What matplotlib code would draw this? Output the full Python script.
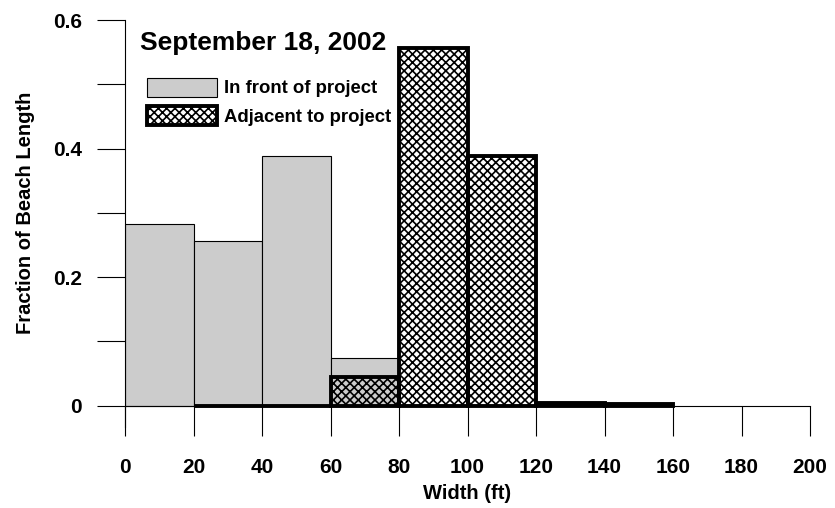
import numpy as np
import matplotlib.pyplot as plt
from matplotlib.patches import Patch

plt.rcParams['font.family'] = ['Liberation Sans', 'DejaVu Sans']
plt.rcParams['font.weight'] = 'bold'
plt.rcParams['hatch.linewidth'] = 1.2

# Données (classes de largeur de 20 ft)
front_left = [0, 20, 40, 60]
front_frac = [0.283, 0.256, 0.388, 0.075]
adj_left = [20, 40, 60, 80, 100, 120, 140]
adj_frac = [0.0, 0.0, 0.044, 0.556, 0.389, 0.005, 0.002]
xticks = [0, 20, 40, 60, 80, 100, 120, 140, 160, 180, 200]
yticks = [0, 0.2, 0.4, 0.6]
ytick_labels = ['0', '0.2', '0.4', '0.6']

fig = plt.figure(figsize=(8.35, 5.08), dpi=100)
ax = fig.add_axes([125/835, 1 - 427/508, 685/835, (427 - 20)/508])

ax.bar(front_left, front_frac, width=20, align='edge', color='#cccccc',
       edgecolor='black', linewidth=0.8, zorder=2)
ax.bar(adj_left, adj_frac, width=20, align='edge', facecolor='none',
       edgecolor='black', hatch='xxxx', linewidth=2.8, zorder=3)

ax.set_xlim(0, 200)
ax.set_ylim(-0.033, 0.6)
ax.spines['top'].set_visible(False)
ax.spines['right'].set_visible(False)
ax.spines['bottom'].set_position(('data', 0))
ax.spines['bottom'].set_linewidth(0.8)
ax.spines['left'].set_linewidth(0.8)

ax.set_xticks(xticks)
ax.set_xticklabels([str(v) for v in xticks])
ax.set_yticks(yticks)
ax.set_yticklabels(ytick_labels)
ax.set_yticks([0.1, 0.3, 0.5], minor=True)
ax.tick_params(axis='x', direction='out', length=21.5, width=0.8, pad=16, labelsize=15)
ax.tick_params(axis='y', which='both', direction='out', length=20, width=0.8, pad=11, labelsize=15)

ax.set_xlabel('Width (ft)', fontsize=14.5, fontweight='bold', labelpad=5)
ax.set_ylabel('Fraction of Beach Length', fontsize=14.5, fontweight='bold')
ax.yaxis.set_label_coords(-0.131, 0.526)

ax.text(0.022, 0.944, 'September 18, 2002', transform=ax.transAxes,
        fontsize=19, fontweight='bold', va='center', ha='left')

handles = [Patch(facecolor='#cccccc', edgecolor='black', linewidth=0.8),
           Patch(facecolor='white', edgecolor='black', hatch='xxxx', linewidth=2.8)]
ax.legend(handles, ['In front of project', 'Adjacent to project'],
          loc='upper left', bbox_to_anchor=(0.032, 0.858), frameon=False,
          fontsize=13.3, handlelength=3.8, handleheight=1.2, handletextpad=0.35,
          labelspacing=0.45, borderaxespad=0, borderpad=0)

fig.savefig('out.png', dpi=100)
